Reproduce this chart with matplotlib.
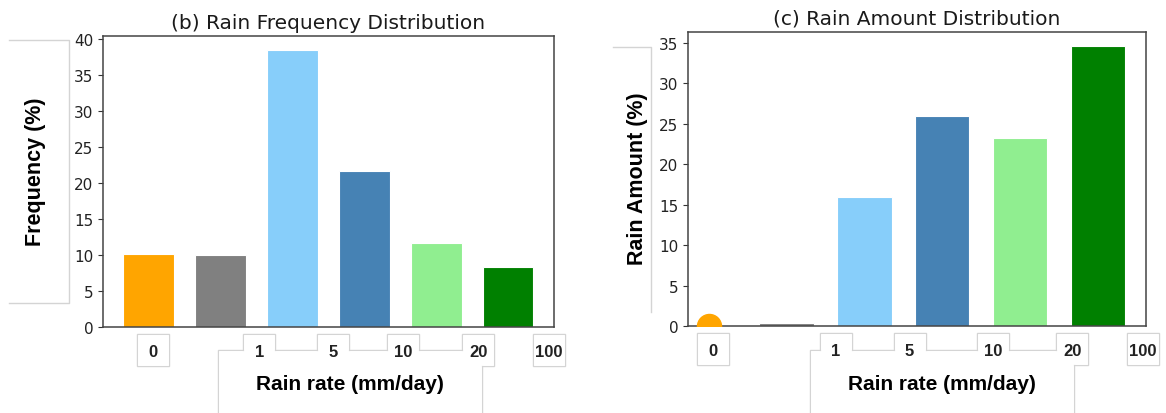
import matplotlib
matplotlib.use("Agg")
import matplotlib.pyplot as plt
from matplotlib.patches import Rectangle
from matplotlib.lines import Line2D
from matplotlib.transforms import IdentityTransform

# data
rate_labels = ['0', '1', '5', '10', '20', '100']
bar_colors = ['orange', 'gray', 'lightskyblue', 'steelblue', 'lightgreen', 'green']
freq_pct = [10.1, 10.0, 38.5, 21.7, 11.7, 8.3]
amount_pct = [0.05, 0.35, 15.9, 26.0, 23.2, 34.6]

# where the bin-edge labels sit (category units)
tick_pos_b = [0.06, 1.54, 2.57, 3.54, 4.58, 5.56]
tick_pos_c = [0.05, 1.63, 2.58, 3.65, 4.67, 5.58]

LABEL_FONT = 'Liberation Sans'
BOX_EDGE = '#d4d4d4'


def style_axes(ax, tick_pos, title, ylabel, xlab_xy, ylab_xy):
    ax.set_title(title, fontsize=14.5, color='#1a1a1a')
    ax.set_xticks(tick_pos)
    ax.set_xticklabels(rate_labels, fontweight='bold', fontfamily=LABEL_FONT, fontsize=12)
    ax.tick_params(axis='x', length=0, pad=12, labelcolor='#222222')
    ax.tick_params(axis='y', labelsize=11, labelcolor='#222222', color='#333333')
    for s in ax.spines.values():
        s.set_color('#444444')
        s.set_linewidth(1.1)
    ax.set_xlabel('Rain rate (mm/day)', fontsize=15, fontweight='bold', fontfamily=LABEL_FONT, va='center')
    ax.xaxis.set_label_coords(*xlab_xy)
    ax.set_ylabel(ylabel, fontsize=15.5, fontweight='bold', fontfamily=LABEL_FONT, va='center')
    ax.yaxis.set_label_coords(*ylab_xy)


def add_box(fig, x0, y0, x1, y1):
    # outline first, white fill on top -> overlapping boxes merge into one outline
    x0, y0, x1, y1 = round(x0) + 0.5, round(y0) + 0.5, round(x1) + 0.5, round(y1) + 0.5
    fig.add_artist(Rectangle((x0, y0), x1 - x0, y1 - y0, transform=IdentityTransform(),
                             facecolor='none', edgecolor=BOX_EDGE, linewidth=1.0,
                             snap=False, zorder=-3))
    fig.add_artist(Rectangle((x0 + 0.6, y0 + 0.6), x1 - x0 - 1.2, y1 - y0 - 1.2,
                             transform=IdentityTransform(), snap=False,
                             facecolor='white', edgecolor='none', zorder=-2))


def add_open_box(fig, xs, ys):
    fig.add_artist(Line2D(xs, ys, transform=IdentityTransform(), color=BOX_EDGE,
                          linewidth=1, zorder=-3))


fig = plt.figure(figsize=(11.66, 4.14), dpi=100)
ax_b = fig.add_axes([0.0883, 0.2077, 0.3868, 0.7022])
ax_c = fig.add_axes([0.590, 0.2101, 0.3928, 0.7101])

# (b) frequency
ax_b.bar(range(len(freq_pct)), freq_pct, width=0.7, color=bar_colors,
         edgecolor='white', linewidth=0.8)
style_axes(ax_b, tick_pos_b, '(b) Rain Frequency Distribution', 'Frequency (%)',
           (0.548, -0.196), (-0.149, 0.536))

# (c) amount: the 0 mm/day bin is drawn as a dot
ax_c.bar(range(1, len(amount_pct)), amount_pct[1:], width=0.7, color=bar_colors[1:],
         edgecolor='white', linewidth=0.8)
ax_c.scatter([0], [amount_pct[0]], s=300, color=bar_colors[0], zorder=3)
style_axes(ax_c, tick_pos_c, '(c) Rain Amount Distribution', 'Rain Amount (%)',
           (0.555, -0.197), (-0.110, 0.503))

fig.canvas.draw()
renderer = fig.canvas.get_renderer()

for ax in (ax_b, ax_c):
    for lab in ax.get_xticklabels():
        bb = lab.get_window_extent(renderer)
        cx, cy = (bb.x0 + bb.x1) / 2, (bb.y0 + bb.y1) / 2
        add_box(fig, cx - 16, cy - 16, cx + 16, cy + 16)
    bb = ax.xaxis.label.get_window_extent(renderer)
    cx, cy = (bb.x0 + bb.x1) / 2, (bb.y0 + bb.y1) / 2
    add_box(fig, cx - 132, cy - 80, cx + 132, cy + 33)

# boxes behind the y labels (only partly outlined in the reference)
bb = ax_b.yaxis.label.get_window_extent(renderer)
cx, cy = (bb.x0 + bb.x1) / 2, (bb.y0 + bb.y1) / 2
add_open_box(fig, [cx - 27, cx + 33, cx + 33, cx - 27], [cy + 131, cy + 131, cy - 132, cy - 132])
bb = ax_c.yaxis.label.get_window_extent(renderer)
cx, cy = (bb.x0 + bb.x1) / 2, (bb.y0 + bb.y1) / 2
add_open_box(fig, [cx - 25, cx + 13.5, cx + 13.5], [cy + 131, cy + 131, cy - 134])

fig.savefig('out.png', dpi=100)
